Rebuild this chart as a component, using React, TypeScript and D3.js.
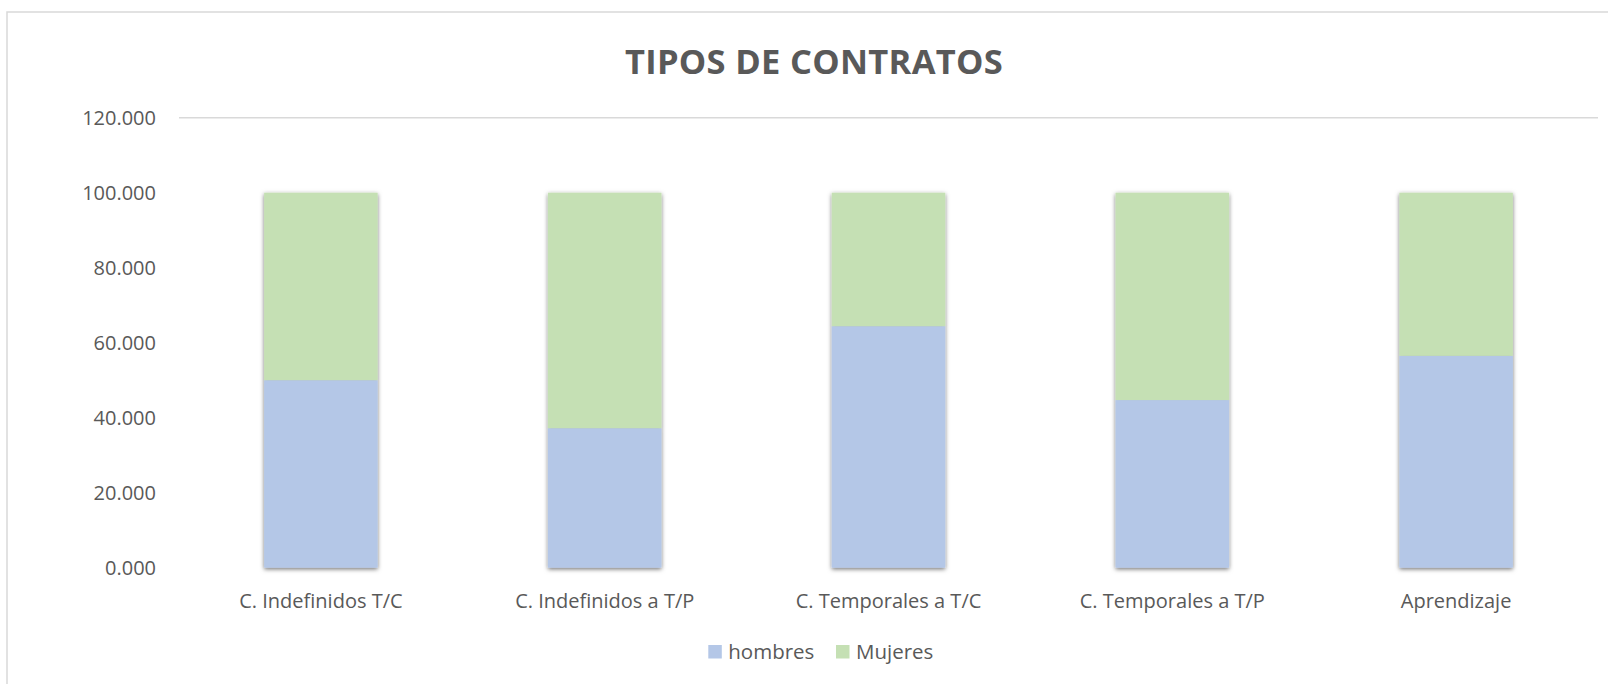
import * as d3 from "d3";

const categories = [
  "C. Indefinidos T/C",
  "C. Indefinidos a T/P",
  "C. Temporales a T/C",
  "C. Temporales a T/P",
  "Aprendizaje",
];
const hombres = [50.0, 37.2, 64.4, 44.7, 56.5];
const mujeres = [50.0, 62.8, 35.6, 55.3, 43.5];
const yTicks = [0, 20, 40, 60, 80, 100, 120];
const seriesNames = ["hombres", "Mujeres"];
const colors = ["#B4C7E7", "#C5E0B4"];

const W = 1608;
const H = 684;
const font = "'Open Sans', 'Liberation Sans', sans-serif";
const textColor = "#595959";

export default function App() {
  const x = d3
    .scaleBand<string>()
    .domain(categories)
    .range([179, 1598])
    .paddingInner(0.6)
    .paddingOuter(0.3);
  const y = d3.scaleLinear().domain([0, 120]).range([567.7, 117.7]);

  const rows = categories.map((c, i) => ({ cat: c, hombres: hombres[i], Mujeres: mujeres[i] }));
  const stacked = d3.stack<any>().keys(seriesNames)(rows);
  const fmt = (v: number) => v.toFixed(3);

  return (
    <svg
      width={W}
      height={H}
      style={{ position: "absolute", left: 0, top: 0, background: "#fff" }}
    >
      <defs>
        <filter id="shadow" x="-20%" y="-5%" width="140%" height="110%">
          <feDropShadow dx="0" dy="1.5" stdDeviation="2.3" floodColor="#000" floodOpacity="0.55" />
        </filter>
      </defs>
      <rect x={0} y={0} width={W} height={H} fill="#fff" />
      <rect x={7} y={12} width={W + 20} height={H + 20} fill="none" stroke="#d9d9d9" strokeWidth={1.5} />

      <text
        x={814}
        y={74}
        textAnchor="middle"
        fontFamily={font}
        fontWeight="bold"
        fontSize={34.5}
        letterSpacing={0.3}
        fill={textColor}
      >
        TIPOS DE CONTRATOS
      </text>

      {yTicks.map((t) => (
        <g key={t}>
          {t === 120 && (
            <line x1={179} x2={1598} y1={y(t)} y2={y(t)} stroke="#d9d9d9" strokeWidth={1.5} />
          )}
          <text
            x={156}
            y={y(t)}
            dy="0.35em"
            textAnchor="end"
            fontFamily={font}
            fontSize={20}
            fill={textColor}
          >
            {fmt(t)}
          </text>
        </g>
      ))}

      {categories.map((c, i) => (
        <g key={c} filter="url(#shadow)">
          {stacked.map((s, k) => (
            <rect
              key={k}
              x={x(c)}
              width={x.bandwidth()}
              y={y(s[i][1])}
              height={y(s[i][0]) - y(s[i][1])}
              fill={colors[k]}
            />
          ))}
        </g>
      ))}

      {categories.map((c) => (
        <text
          key={c}
          x={(x(c) as number) + x.bandwidth() / 2}
          y={607.5}
          textAnchor="middle"
          fontFamily={font}
          fontSize={20}
          fill={textColor}
        >
          {c}
        </text>
      ))}

      {seriesNames.map((n, k) => {
        const lx = [708.3, 836][k];
        return (
          <g key={n}>
            <rect x={lx} y={645} width={13.5} height={13.5} fill={colors[k]} />
            <text x={lx + 20} y={659} fontFamily={font} fontSize={20.5} fill={textColor}>
              {n}
            </text>
          </g>
        );
      })}
    </svg>
  );
}
